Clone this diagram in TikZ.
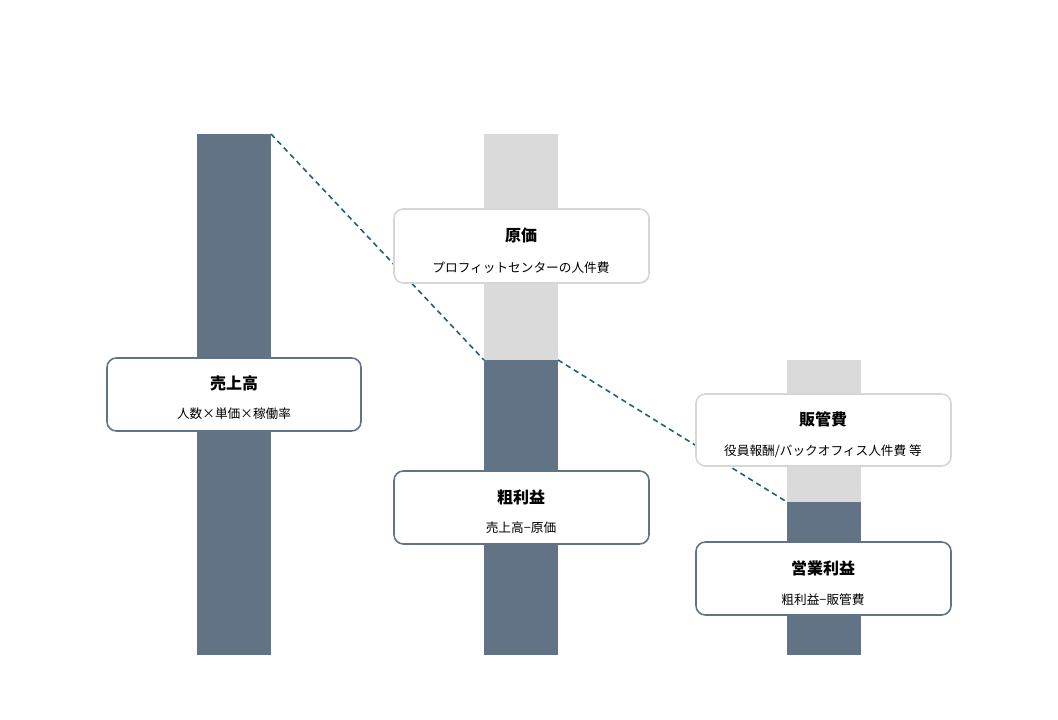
\documentclass[tikz,border=0pt]{standalone}
\usepackage{fontspec}
\setmainfont{Noto Sans CJK JP}
\begin{document}
\begin{tikzpicture}[x=0.75pt,y=-0.75pt,
  dark/.style={fill=barc,draw=none},
  light/.style={fill=lg,draw=none},
  link/.style={draw=linkc,dashed,line width=1.2pt,dash pattern=on 4pt off 3pt},
  box/.style={fill=white,draw=#1,line width=1.2pt,rounded corners=7pt},
  ttl/.style={font=\bfseries\fontsize{12}{14}\selectfont},
  sub/.style={font=\fontsize{9.5}{12}\selectfont}]
\definecolor{barc}{HTML}{627386}
\definecolor{lg}{HTML}{DADADA}
\definecolor{linkc}{HTML}{1F5F7F}
\definecolor{lb}{HTML}{D6D6D6}
\useasboundingbox (0,0) rectangle (1058,720);
\fill[dark] (197,134) rectangle (271,655);
\fill[light] (484,134) rectangle (558,360);
\fill[dark] (484,360) rectangle (558,655);
\fill[light] (787,360) rectangle (861,502);
\fill[dark] (787,502) rectangle (861,655);
\coordinate (a1) at (271,134); \coordinate (a2) at (484,360);
\coordinate (b1) at (558,360); \coordinate (b2) at (787,502);
\draw[link] (a1) -- (a2);
\draw[link] (b1) -- (b2);
\draw[box=barc] (107,358) rectangle (361,431);
\node[ttl] (t1) at (234,383) {売上高};
\node[sub] (s1) at (234,414) {人数×単価×稼働率};
\draw[box=lb] (394,209) rectangle (649,283);
\node[ttl] (t2) at (521,235) {原価};
\node[sub] (s2) at (521,268) {プロフィットセンターの人件費};
\draw[box=barc] (394,471) rectangle (649,544);
\node[ttl] (t3) at (521,497) {粗利益};
\node[sub] (s3) at (521,528) {売上高−原価};
\draw[box=lb] (696,394) rectangle (951,466);
\node[ttl] (t4) at (823,419) {販管費};
\node[sub] (s4) at (823,451) {役員報酬/バックオフィス人件費 等};
\draw[box=barc] (696,542) rectangle (951,615);
\node[ttl] (t5) at (823,568) {営業利益};
\node[sub] (s5) at (823,600) {粗利益−販管費};
\end{tikzpicture}
\end{document}
